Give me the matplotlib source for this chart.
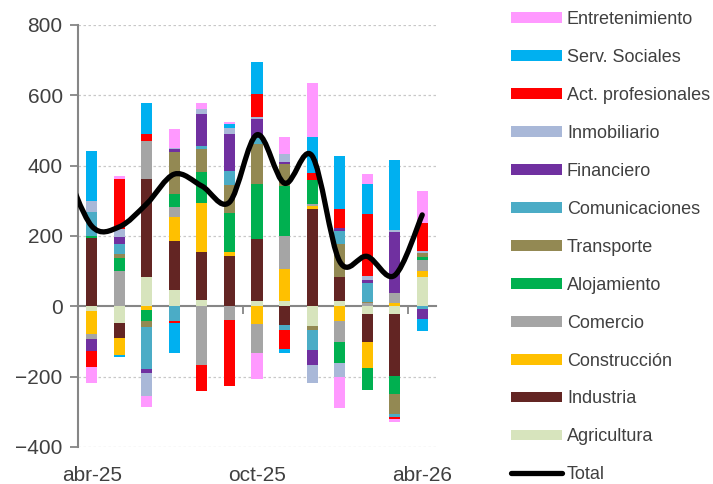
import matplotlib
matplotlib.use("Agg")
import matplotlib.pyplot as plt
import numpy as np
from matplotlib.path import Path
from matplotlib.patches import PathPatch, Patch
from matplotlib.lines import Line2D

plt.rcParams["font.family"] = ["Liberation Sans", "DejaVu Sans"]

## Data
months = ["abr-25", "may-25", "jun-25", "jul-25", "ago-25", "sep-25", "oct-25",
          "nov-25", "dic-25", "ene-26", "feb-26", "mar-26", "abr-26"]

agricultura = [-13, -47, 84, 46, 18, 0, 14, 14, -57, 14, -22, -21, 82]
industria = [193, -43, 278, 140, 137, 142, 177, -54, 276, 69, -78, -176, 0]
construccion = [-67, -49, -10, 67, 139, 12, -49, 91, 9, -42, -76, 10, 19]
comercio = [-13, 100, 108, 29, -168, -40, -83, 94, 5, -60, 9, 28, 30]
alojamiento = [6, 38, -33, 37, 87, 111, 158, 144, 70, -59, -61, -51, 8]
transporte = [0, 11, -16, 121, 66, 81, 112, 61, -9, 95, 3, -59, 12]
comunicaciones = [70, 27, -119, -42, 9, 38, 18, -14, -57, 35, 55, -8, -9]
financiero = [-34, 20, -12, 7, 91, 105, 53, 6, -45, 9, 9, 174, -28]
inmobiliario = [30, 23, -66, 3, 14, 17, 6, 24, -50, -41, 10, 5, 6]
act_prof = [-45, 143, 20, -5, -74, -187, 67, -52, 18, 55, 176, -6, 81]
serv_sociales = [142, -5, 87, -86, 0, 12, 89, -14, 104, 151, 85, 199, -34]
entretenimiento = [-45, 10, -30, 55, 18, 7, -74, 48, 152, -87, 29, -7, 89]

# total line starts one month earlier (mar-25), clipped at the axis
total = [400, 228, 226, 292, 376, 342, 296, 488, 350, 428, 128, 142, 88, 260]

series = [
    ("Agricultura", agricultura, "#D7E4BD"),
    ("Industria", industria, "#632523"),
    ("Construcción", construccion, "#FFC000"),
    ("Comercio", comercio, "#A5A5A5"),
    ("Alojamiento", alojamiento, "#00B050"),
    ("Transporte", transporte, "#938953"),
    ("Comunicaciones", comunicaciones, "#4BACC6"),
    ("Financiero", financiero, "#7030A0"),
    ("Inmobiliario", inmobiliario, "#A9B8D8"),
    ("Act. profesionales", act_prof, "#FF0000"),
    ("Serv. Sociales", serv_sociales, "#00B0F0"),
    ("Entretenimiento", entretenimiento, "#FF99FF"),
]

txt = "#404040"
axcol = "#868686"

fig = plt.figure(figsize=(7.13, 4.84), dpi=100)
ax = fig.add_axes([78 / 713, 37 / 484, 358 / 713, 422 / 484])

x = np.arange(len(months))
pos_base = np.zeros(len(months))
neg_base = np.zeros(len(months))
for name, vals, col in series:
    v = np.array(vals, dtype=float)
    p = np.where(v > 0, v, 0)
    n = np.where(v < 0, v, 0)
    ax.bar(x, p, 0.4, bottom=pos_base, color=col, zorder=2)
    ax.bar(x, n, 0.4, bottom=neg_base, color=col, zorder=2)
    pos_base += p
    neg_base += n

# smoothed total line (cubic Bezier through the points)
tx = np.arange(-1, len(months)).astype(float)
ty = np.array(total, dtype=float)
verts = [(tx[0], ty[0])]
codes = [Path.MOVETO]
nn = len(tx)
for i in range(nn - 1):
    a = max(i - 1, 0)
    b = min(i + 2, nn - 1)
    c1 = (tx[i] + (tx[i + 1] - tx[a]) / 6, ty[i] + (ty[i + 1] - ty[a]) / 6)
    c2 = (tx[i + 1] - (tx[b] - tx[i]) / 6, ty[i + 1] - (ty[b] - ty[i]) / 6)
    verts += [c1, c2, (tx[i + 1], ty[i + 1])]
    codes += [Path.CURVE4] * 3
ax.add_patch(PathPatch(Path(verts, codes), facecolor="none", edgecolor="black",
                       lw=3.8, capstyle="round", joinstyle="round", zorder=4))

ax.set_xlim(-0.5, 12.5)
ax.set_ylim(-400, 800)
ax.set_yticks(np.arange(-400, 801, 200))
ax.set_xticks([0, 6, 12])
ax.set_xticklabels([months[0], months[6], months[12]])
ax.tick_params(axis="x", length=0, pad=14, labelsize=15, labelcolor=txt)
ax.tick_params(axis="y", length=6, width=1.3, color=axcol, labelsize=15,
               labelcolor=txt, pad=5)
for yv in [-400, -200, 200, 400, 600, 800]:
    ax.axhline(yv, color="#C8C8C8", lw=0.9, ls=(0, (2, 2)), zorder=0)
for s in ["top", "right", "bottom"]:
    ax.spines[s].set_visible(False)
ax.spines["left"].set_color(axcol)
ax.spines["left"].set_linewidth(1.5)

# horizontal axis line at zero with small category tick marks
sec = ax.secondary_xaxis(1 / 3)
sec.set_xticks([5.5, 11.5])
sec.set_xticklabels([])
sec.tick_params(length=6, width=1.3, color=axcol, direction="out")
sec.spines["bottom"].set_color(axcol)
sec.spines["bottom"].set_linewidth(1.5)

handles = [Patch(facecolor=col, label=name) for name, vals, col in series[::-1]]
handles.append(Line2D([], [], color="black", lw=3.8, solid_capstyle="round", label="Total"))
fig.legend(handles=handles, loc="upper left", bbox_to_anchor=(511 / 713, 1 - 11 / 484),
           frameon=False, fontsize=13, labelcolor=txt, handlelength=2.8,
           handleheight=0.55, handletextpad=0.3, labelspacing=1.16, borderpad=0,
           borderaxespad=0)

fig.savefig("out.png", dpi=100)
